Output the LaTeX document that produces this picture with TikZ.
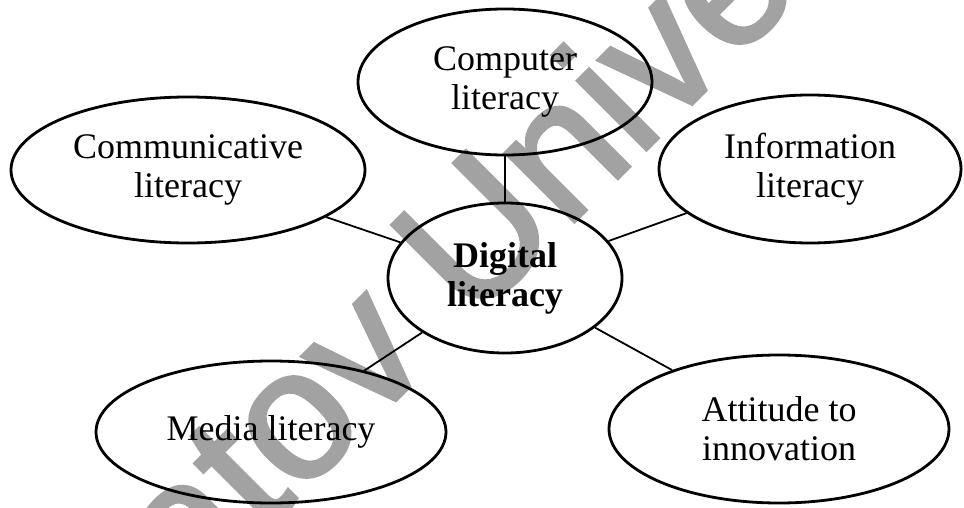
\documentclass[tikz,border=0pt]{standalone}
\usepackage{fontspec}
\setmainfont{Liberation Serif}
\newfontfamily\markfont[FakeBold=2]{Liberation Sans}
\usetikzlibrary{shapes.geometric}
\definecolor{markgray}{RGB}{162,162,162}
\begin{document}
\begin{tikzpicture}[x=1pt,y=-1pt,
  bubble/.style={ellipse,draw,line width=2.8pt,inner sep=0pt,align=center,
    font=\fontsize{36}{39}\selectfont},
  link/.style={line width=1.8pt}]
\useasboundingbox (0,0) rectangle (964,508);
% background stamp
\begin{scope}
  \clip (0,0) rectangle (964,508);
  \node[anchor=base west,rotate=45,inner sep=0pt,text=markgray,
    font=\markfont\fontsize{184}{184}\selectfont] (stamp) at (-13,809) {Saratov University};
\end{scope}
% concept bubbles
\node[bubble,minimum width=234pt,minimum height=150pt] (dig) at (505,278)
  {\bfseries Digital\\\bfseries literacy};
\node[bubble,minimum width=294pt,minimum height=146pt] (comp) at (505,82)
  {Computer\\literacy};
\node[bubble,minimum width=354pt,minimum height=146pt] (comm) at (188,170)
  {Communicative\\literacy};
\node[bubble,minimum width=302pt,minimum height=148pt] (info) at (810,169)
  {Information\\literacy};
\node[bubble,minimum width=350pt,minimum height=142pt] (media) at (271,432)
  {Media literacy};
\node[bubble,minimum width=340pt,minimum height=148pt] (att) at (779,429)
  {Attitude to\\innovation};
% spokes
\draw[link] (comp) -- (dig);
\draw[link] (comm) -- (dig);
\draw[link] (info) -- (dig);
\draw[link] (media) -- (dig);
\draw[link] (att) -- (dig);
\end{tikzpicture}
\end{document}
